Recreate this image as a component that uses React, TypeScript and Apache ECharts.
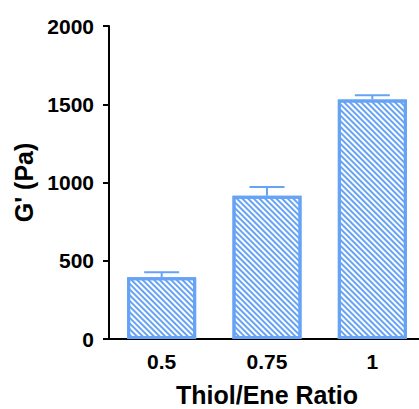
import React, { useEffect, useRef } from "react";
import * as echarts from "echarts";

const categories = ["0.5", "0.75", "1"];
const values = [395, 915, 1530];
const errors = [32, 56, 28];
const yTicks = [0, 500, 1000, 1500, 2000];

const BLUE = "#66a3f5";
const FONT = "Liberation Sans, Arial, sans-serif";

export default function App() {
  const ref = useRef<HTMLDivElement>(null);
  useEffect(() => {
    if (!ref.current) return;
    const chart = echarts.init(ref.current, null, { renderer: "svg" });
    const errData = values.map((v, i) => [i, v, v + errors[i]]);
    chart.setOption({
      animation: false,
      backgroundColor: "#ffffff",
      grid: { left: 109, top: 26, width: 316, height: 313, outerBoundsMode: "none", containLabel: false },
      xAxis: {
        type: "category",
        data: categories,
        axisLine: { lineStyle: { color: "#000", width: 2 } },
        axisTick: { alignWithLabel: true, length: 6, lineStyle: { color: "#000", width: 2 } },
        axisLabel: {
          color: "#000",
          fontFamily: FONT,
          fontWeight: "bold",
          fontSize: 21,
          margin: 12,
        },
        name: "Thiol/Ene Ratio",
        nameLocation: "middle",
        nameGap: 43,
        nameTextStyle: {
          color: "#000",
          fontFamily: FONT,
          fontWeight: "bold",
          fontSize: 25,
        },
      },
      yAxis: {
        type: "value",
        min: yTicks[0],
        max: yTicks[yTicks.length - 1],
        interval: 500,
        splitLine: { show: false },
        axisLine: { show: true, lineStyle: { color: "#000", width: 2 } },
        axisTick: { show: true, length: 6, lineStyle: { color: "#000", width: 2 } },
        axisLabel: {
          color: "#000",
          fontFamily: FONT,
          fontWeight: "bold",
          fontSize: 21,
          margin: 15,
          formatter: (v: number) => String(v),
        },
        name: "G' (Pa)",
        nameLocation: "middle",
        nameGap: 72,
        nameTextStyle: {
          color: "#000",
          fontFamily: FONT,
          fontWeight: "bold",
          fontSize: 25,
        },
      },
      series: [
        {
          type: "custom",
          renderItem: (params: any, api: any) => {
            const x = api.coord([api.value(0), api.value(1)]);
            const top = api.coord([api.value(0), api.value(2)]);
            const half = 17.5;
            return {
              type: "group",
              children: [
                {
                  type: "line",
                  shape: { x1: x[0], y1: x[1], x2: top[0], y2: top[1] },
                  style: { stroke: BLUE, lineWidth: 2 },
                },
                {
                  type: "line",
                  shape: { x1: top[0] - half, y1: top[1], x2: top[0] + half, y2: top[1] },
                  style: { stroke: BLUE, lineWidth: 2 },
                },
              ],
            };
          },
          data: errData,
          z: 1,
        },
        {
          type: "bar",
          data: values,
          barWidth: 69,
          z: 2,
          itemStyle: {
            color: "#ffffff",
            borderColor: BLUE,
            borderWidth: 3,
            decal: {
              symbol: "rect",
              symbolSize: 1,
              dashArrayX: [1, 0],
              dashArrayY: [1.5, 1.6],
              rotation: Math.PI / 4,
              color: BLUE,
              backgroundColor: "#ffffff",
            },
          },
        },
      ],
    });
    return () => chart.dispose();
  }, []);
  return <div ref={ref} style={{ width: 419, height: 409, position: "absolute", left: 0, top: 0 }} />;
}
